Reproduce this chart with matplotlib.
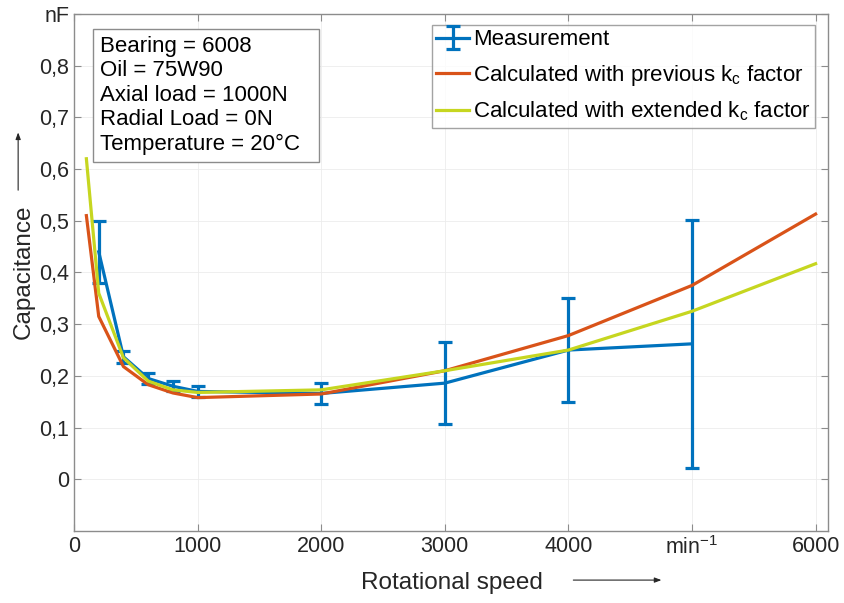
import numpy as np
import matplotlib
matplotlib.use("Agg")
import matplotlib.pyplot as plt
from matplotlib.patches import FancyArrowPatch

plt.rcParams['font.family'] = ['Liberation Sans', 'DejaVu Sans']
plt.rcParams['mathtext.fontset'] = 'custom'
plt.rcParams['mathtext.rm'] = 'Liberation Sans'
plt.rcParams['mathtext.it'] = 'Liberation Sans'

# measured capacitance with scatter (nF over rpm)
meas_speed = [200, 400, 600, 800, 1000, 2000, 3000, 4000, 5000]
meas_cap = [0.44, 0.237, 0.195, 0.18, 0.17, 0.166, 0.186, 0.25, 0.262]
meas_err = [0.06, 0.012, 0.01, 0.01, 0.01, 0.02, 0.08, 0.10, 0.24]

# model curves
calc_speed = [100, 200, 400, 600, 800, 1000, 2000, 3000, 4000, 5000, 6000]
cap_previous = [0.51, 0.315, 0.218, 0.183, 0.167, 0.158, 0.165, 0.21, 0.278, 0.375, 0.513]
cap_extended = [0.62, 0.36, 0.235, 0.19, 0.173, 0.168, 0.173, 0.21, 0.25, 0.325, 0.417]

x_ticks = [0, 1000, 2000, 3000, 4000, 5000, 6000]
x_tick_labels = ['0', '1000', '2000', '3000', '4000', 'min$^{-1}$', '6000']
y_ticks = [0, 0.1, 0.2, 0.3, 0.4, 0.5, 0.6, 0.7, 0.8, 0.9]
y_tick_labels = ['0', '0,1', '0,2', '0,3', '0,4', '0,5', '0,6', '0,7', '0,8', 'nF']

blue = '#0072BD'
orange = '#D95319'
lime = '#C6D620'
dark = '#262626'
frame = '#8c8c8c'

fig = plt.figure(figsize=(8.44, 6.03), dpi=100)
ax = fig.add_axes([0.0877, 0.1194, 0.8933, 0.8574])

ax.errorbar(meas_speed, meas_cap, yerr=meas_err, color=blue, lw=2.3,
            elinewidth=2.3, capsize=5, capthick=2.3, label='Measurement', zorder=3)
ax.plot(calc_speed, cap_previous, color=orange, lw=2.3,
        label='Calculated with previous k$_c$ factor', zorder=4)
ax.plot(calc_speed, cap_extended, color=lime, lw=2.3,
        label='Calculated with extended k$_c$ factor', zorder=5)

ax.set_xlim(0, 6100)
ax.set_ylim(-0.1, 0.9)
ax.set_xticks(x_ticks)
ax.set_xticklabels(x_tick_labels)
ax.set_yticks(y_ticks)
ax.set_yticklabels(y_tick_labels)
ax.tick_params(direction='in', top=True, right=True, labelsize=15.5,
               labelcolor=dark, color=frame, length=5, width=0.8)
for sp in ax.spines.values():
    sp.set_color(frame)
    sp.set_linewidth(1.0)
ax.grid(True, color='#ececec', lw=0.6)
ax.set_axisbelow(True)

# parameter box
ax.text(0.034, 0.958, 'Bearing = 6008\nOil = 75W90\nAxial load = 1000N\n'
        'Radial Load = 0N\nTemperature = 20°C  ',
        transform=ax.transAxes, ha='left', va='top', fontsize=16,
        linespacing=1.22, color='black',
        bbox=dict(boxstyle='square,pad=0.3', fc='white', ec=frame, lw=1.0))

handles, labels = ax.get_legend_handles_labels()
order = [labels.index('Measurement')] + [i for i, l in enumerate(labels) if l != 'Measurement']
leg = ax.legend([handles[i] for i in order], [labels[i] for i in order],
                loc='upper right', bbox_to_anchor=(0.983, 0.979), fontsize=16,
                frameon=True, fancybox=False, handlelength=1.5, handletextpad=0.15,
                borderpad=0.2, labelspacing=0.55, borderaxespad=0.0)
leg.get_frame().set_edgecolor(frame)
leg.get_frame().set_linewidth(1.0)

# axis labels with arrows
fig.text(0.028, 0.549, 'Capacitance', rotation=90, ha='center', va='center',
         fontsize=17.5, color=dark)
fig.add_artist(FancyArrowPatch(
    (0.0215, 0.68), (0.0215, 0.785), transform=fig.transFigure,
    arrowstyle='-|>,head_length=4,head_width=1.5', lw=0.8, color=dark))
fig.text(0.535, 0.033, 'Rotational speed', ha='center', va='center',
         fontsize=17.5, color=dark)
fig.add_artist(FancyArrowPatch(
    (0.676, 0.038), (0.787, 0.038), transform=fig.transFigure,
    arrowstyle='-|>,head_length=4,head_width=1.5', lw=0.8, color=dark))

fig.savefig('out.png', dpi=100)
